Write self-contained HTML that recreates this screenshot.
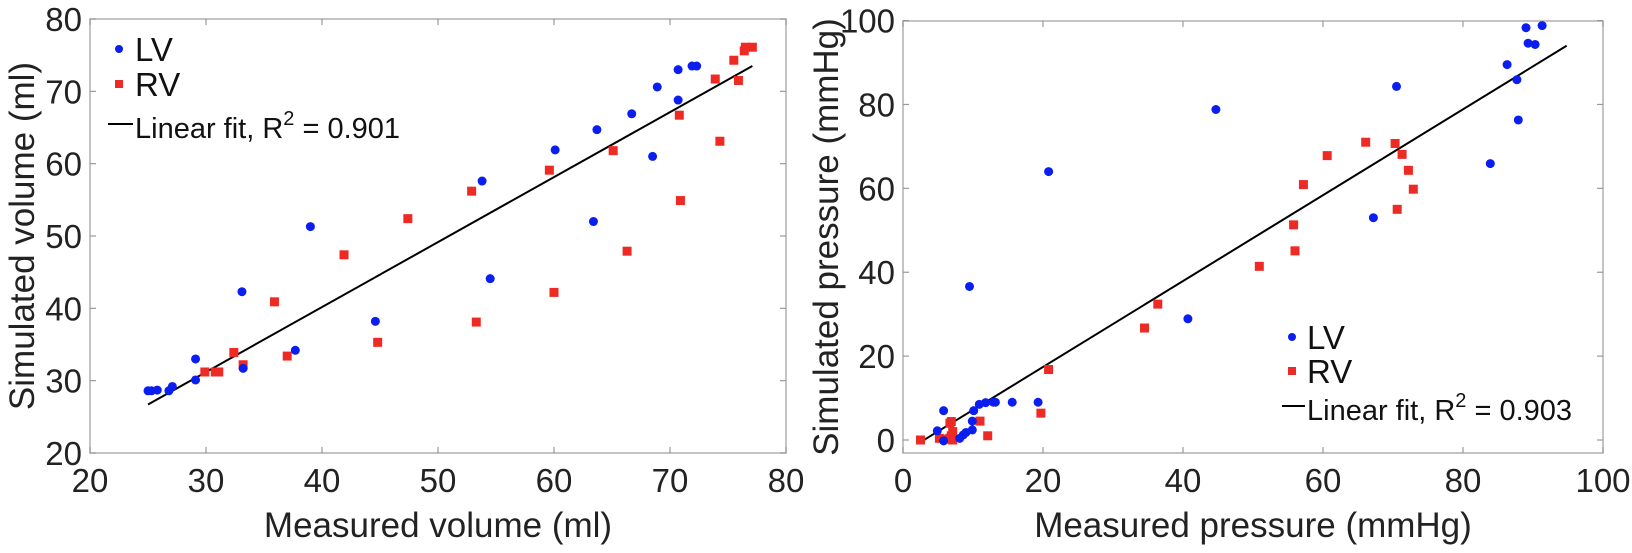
<!DOCTYPE html>
<html><head><meta charset="utf-8">
<style>
html,body{margin:0;padding:0;background:#fff;}
svg{display:block;font-family:"Liberation Sans",Arial,sans-serif;}
</style></head>
<body>
<svg id="fig" width="1632" height="553" viewBox="0 0 1632 553"></svg>
<script>
// ---- Left chart data (volume, ml) ----
const volLvX = [25.0,25.3,25.8,26.8,27.1,29.1,29.1,33.1,33.2,37.7,39.0,44.6,53.8,54.5,60.1,63.4,63.7,66.7,68.5,68.9,70.7,70.7,71.9,72.3];
const volLvY = [28.6,28.6,28.7,28.6,29.2,33.0,30.1,42.3,31.7,34.2,51.3,38.2,57.6,44.1,61.9,52.0,64.7,66.9,61.0,70.6,73.0,68.8,73.5,73.5];
const volRvX = [29.9,30.8,31.1,32.4,33.2,35.9,37.0,41.9,44.8,47.4,52.9,53.3,59.6,60.0,65.1,66.3,70.8,70.9,73.9,74.3,75.5,75.9,76.4,76.5,77.1];
const volRvY = [31.2,31.2,31.2,33.9,32.2,40.9,33.4,47.4,35.3,52.4,56.2,38.1,59.1,42.2,61.8,47.9,66.7,54.9,71.7,63.1,74.3,71.5,75.6,76.1,76.1];
const volFitX = [25.0,77.1];
const volFitY = [26.7,73.5];
const volXTicks = [20,30,40,50,60,70,80];
const volYTicks = [20,30,40,50,60,70,80];
// ---- Right chart data (pressure, mmHg) ----
const prLvX = [9.5,20.8,44.7,40.7,67.2,70.5,83.9,86.3,87.7,87.9,89.0,91.3,89.3,90.3,5.8,4.9,10.1,10.9,11.8,12.9,13.2,15.6,9.9,9.9,9.0,8.6,8.1,5.8,19.3];
const prLvY = [36.6,64.0,78.8,28.9,53.0,84.3,65.9,89.5,85.9,76.3,98.3,98.8,94.6,94.3,7.0,2.2,7.0,8.5,8.9,9.0,9.0,9.0,4.5,2.4,1.8,1.2,0.4,-0.2,9.0];
const prRvX = [36.4,34.5,20.8,50.9,56.0,55.8,57.2,60.6,66.1,70.3,71.3,72.2,72.9,70.6,2.5,5.2,6.0,6.7,7.1,6.9,6.7,7.1,6.9,11.0,12.1,19.7];
const prRvY = [32.4,26.7,16.8,41.4,45.1,51.3,60.9,67.8,71.0,70.7,68.1,64.3,59.8,55.0,0.0,0.4,0.2,0.4,0.0,4.4,4.0,2.0,1.0,4.5,1.0,6.4];
const prFitX = [2.6,94.8];
const prFitY = [-0.4,94.0];
const prXTicks = [0,20,40,60,80,100];
const prYTicks = [0,20,40,60,80,100];

const NS = "http://www.w3.org/2000/svg";
const svg = document.getElementById('fig');
function mk(tag, attrs, parent){
  const e = document.createElementNS(NS, tag);
  for (const k in attrs) e.setAttribute(k, attrs[k]);
  (parent||svg).appendChild(e);
  return e;
}
function scale(d0,d1,r0,r1){ return v => r0 + (v-d0)/(d1-d0)*(r1-r0); }

function drawChart(cfg){
  const g = mk('g',{});
  
  
  const xs = scale(cfg.xd[0],cfg.xd[1],cfg.L,cfg.R);
  const ys = scale(cfg.yd[0],cfg.yd[1],cfg.B,cfg.T);
  const frame = mk('rect',{x:cfg.L,y:cfg.T,width:cfg.R-cfg.L,height:cfg.B-cfg.T,fill:'none',stroke:'#b0b0b0','stroke-width':1.5},g);
  
  
  cfg.xt.forEach(t=>{
    const x = xs(t);
    mk('line',{x1:x,y1:cfg.B,x2:x,y2:cfg.B-6,stroke:'#999','stroke-width':1.2},g);
    mk('line',{x1:x,y1:cfg.T,x2:x,y2:cfg.T+6,stroke:'#999','stroke-width':1.2},g);
    const tx = mk('text',{x:x,y:cfg.B+39,'text-anchor':'middle','font-size':33,fill:'#222'},g);
    tx.textContent = t;
    
    
  });
  cfg.yt.forEach(t=>{
    const y = ys(t);
    mk('line',{x1:cfg.L,y1:y,x2:cfg.L+6,y2:y,stroke:'#999','stroke-width':1.2},g);
    mk('line',{x1:cfg.R,y1:y,x2:cfg.R-6,y2:y,stroke:'#999','stroke-width':1.2},g);
    const tx = mk('text',{x:cfg.L-8,y:y+12,'text-anchor':'end','font-size':33,fill:'#222'},g);
    tx.textContent = t;
    
    
  });
  const xl = mk('text',{x:(cfg.L+cfg.R)/2,y:cfg.B+84,'text-anchor':'middle','font-size':35,fill:'#222'},g);
  xl.textContent = cfg.xlabel;
  
  
  const yc = (cfg.T+cfg.B)/2;
  const yl = mk('text',{x:cfg.ylx,y:yc,'text-anchor':'middle','font-size':35,fill:'#222',transform:`rotate(-90 ${cfg.ylx} ${yc})`},g);
  yl.textContent = cfg.ylabel;
  
  
  const fl = mk('line',{x1:xs(cfg.fx[0]),y1:ys(cfg.fy[0]),x2:xs(cfg.fx[1]),y2:ys(cfg.fy[1]),stroke:'#000','stroke-width':2},g);
  
  
  cfg.rx.forEach((v,i)=>{
    const r = mk('rect',{x:xs(v)-4.5,y:ys(cfg.ry[i])-4.5,width:9,height:9,fill:'#ee2a24'},g);
    
    
  });
  cfg.lx.forEach((v,i)=>{
    const c = mk('circle',{cx:xs(v),cy:ys(cfg.ly[i]),r:4.5,fill:'#0a1ef0'},g);
    
    
  });
  const lg = mk('g',{},g);
  
  
  const a = cfg.leg;
  const e1 = mk('circle',{cx:a.mx,cy:a.y1,r:4,fill:'#0a1ef0'},lg);
  
  
  const t1 = mk('text',{x:a.tx,y:a.y1+12,'font-size':33,fill:'#111'},lg); t1.textContent='LV';
  
  
  const e2 = mk('rect',{x:a.mx-4,y:a.y2-4,width:8,height:8,fill:'#ee2a24'},lg);
  
  
  const t2 = mk('text',{x:a.tx,y:a.y2+12,'font-size':33,fill:'#111'},lg); t2.textContent='RV';
  
  
  const e3 = mk('line',{x1:a.lx0,y1:a.y3-3,x2:a.tx-2,y2:a.y3-3,stroke:'#000','stroke-width':2},lg);
  
  
  const t3 = mk('text',{x:a.tx,y:a.y3+11,'font-size':29,fill:'#111'},lg);
  
  
  t3.innerHTML = 'Linear fit, R<tspan dy="-13" font-size="20">2</tspan><tspan dy="13"> = '+a.r2+'</tspan>';
}

drawChart({name:'volume-chart',L:90,R:786,T:19,B:453,xd:[20,80],yd:[20,80],xt:volXTicks,yt:volYTicks,
  xlabel:'Measured volume (ml)',ylabel:'Simulated volume (ml)',ylx:34,
  lx:volLvX,ly:volLvY,rx:volRvX,ry:volRvY,fx:volFitX,fy:volFitY,
  leg:{mx:119,tx:135,lx0:108,y1:49,y2:84,y3:127,r2:'0.901'}});
drawChart({name:'pressure-chart',L:903,R:1603,T:21,B:453,xd:[0,100],yd:[-3.1,99.9],xt:prXTicks,yt:prYTicks,
  xlabel:'Measured pressure (mmHg)',ylabel:'Simulated pressure (mmHg)',ylx:838,
  lx:prLvX,ly:prLvY,rx:prRvX,ry:prRvY,fx:prFitX,fy:prFitY,
  leg:{mx:1292,tx:1307,lx0:1282,y1:337,y2:371,y3:409,r2:'0.903'}});
</script>
</body></html>
